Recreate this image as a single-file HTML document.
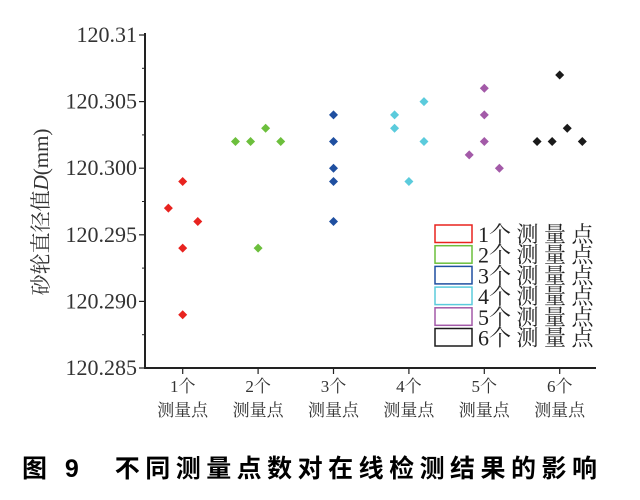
<!DOCTYPE html>
<html><head><meta charset="utf-8"><style>
body{margin:0;background:#fff;}
svg text{font-family:"Liberation Serif","Noto Serif CJK SC",serif;}
</style></head><body>
<svg width="640" height="495" id="chart">
<g id="axes"></g><g id="marks"></g><g id="legend"></g>
<text x="22" y="477" font-size="25" font-weight="bold" textLength="575" lengthAdjust="spacing" style="font-family:'Liberation Sans','Noto Sans CJK SC',sans-serif">图 9　不同测量点数对在线检测结果的影响</text>
<text transform="translate(48,212) rotate(-90)" text-anchor="middle" font-size="21" fill="#333">砂轮直径值<tspan font-style="italic">D</tspan>(mm)</text>
</svg>
<script>
const categories=["1个","2个","3个","4个","5个","6个"];
const colors=["#e8231f","#6cbf3c","#1f4fa0","#5bcbdc","#a35aa8","#1a1a1a"];
const series1=[[0,120.299],[-0.19,120.297],[0.2,120.296],[0,120.294],[0,120.289]];
const series2=[[-0.3,120.302],[-0.1,120.302],[0.1,120.303],[0.3,120.302],[0,120.294]];
const series3=[[0,120.304],[0,120.302],[0,120.300],[0,120.299],[0,120.296]];
const series4=[[-0.19,120.304],[-0.19,120.303],[0.2,120.305],[0.2,120.302],[0,120.299]];
const series5=[[0,120.306],[0,120.304],[0,120.302],[-0.2,120.301],[0.2,120.300]];
const series6=[[-0.3,120.302],[-0.1,120.302],[0.1,120.303],[0.3,120.302],[0,120.307]];
const yTicks=["120.285","120.290","120.295","120.300","120.305","120.31"];
const legendLabels=["1个 测 量 点","2个 测 量 点","3个 测 量 点","4个 测 量 点","5个 测 量 点","6个 测 量 点"];
const NS="http://www.w3.org/2000/svg";
const x=v=>145+(v+0.5)*75.4, y=v=>368-(v-120.285)/0.025*333;
function mk(t,a,p){const e=document.createElementNS(NS,t);for(const k in a)e.setAttribute(k,a[k]);p.appendChild(e);return e;}
const ax=document.getElementById('axes'),mg=document.getElementById('marks'),lg=document.getElementById('legend');
let l=mk('line',{x1:145,y1:33,x2:145,y2:369,stroke:'#222','stroke-width':2},ax);


l=mk('line',{x1:144,y1:368,x2:596,y2:368,stroke:'#222','stroke-width':2},ax);


yTicks.forEach(s=>{const v=parseFloat(s),yy=y(v);
 const t=mk('line',{x1:139,y1:yy,x2:145,y2:yy,stroke:'#222','stroke-width':1.2},ax);
 
 
 const tx=mk('text',{x:137,y:yy+7,'text-anchor':'end','font-size':22,fill:'#333'},ax);tx.textContent=s;
 
 
 if(v<120.31){const m=y(v+0.0025);const mt=mk('line',{x1:142,y1:m,x2:145,y2:m,stroke:'#222'},ax);
 
 }
});
categories.forEach((c,i)=>{const xx=x(i);
 const t=mk('line',{x1:xx,y1:368,x2:xx,y2:374,stroke:'#222','stroke-width':1.2},ax);
 
 
 const tx=mk('text',{x:xx,y:392,'text-anchor':'middle','font-size':17,fill:'#333'},ax);tx.textContent=(i+1)+"个";
 
 
 const t2=mk('text',{x:xx,y:416,'text-anchor':'middle','font-size':17,fill:'#333'},ax);t2.textContent="测量点";
 
 
});
[series1,series2,series3,series4,series5,series6].forEach((s,i)=>{s.forEach(p=>{
 const cx=x(i+p[0]),cy=y(p[1]);
 const d=mk('polygon',{points:`${cx},${cy-4.5} ${cx+4.5},${cy} ${cx},${cy+4.5} ${cx-4.5},${cy}`,fill:colors[i]},mg);
 
 
});});
mk('rect',{x:425,y:220,width:170,height:130,fill:'#fff'},lg);
legendLabels.forEach((s,i)=>{const yy=225+i*20.7;
 const r=mk('rect',{x:435,y:yy,width:37,height:17.5,fill:'none',stroke:colors[i],'stroke-width':1.5},lg);
 
 
 const t=mk('text',{x:478,y:yy+17,'font-size':22,fill:'#222'},lg);t.textContent=s;
 
 
});
</script>
</body></html>
